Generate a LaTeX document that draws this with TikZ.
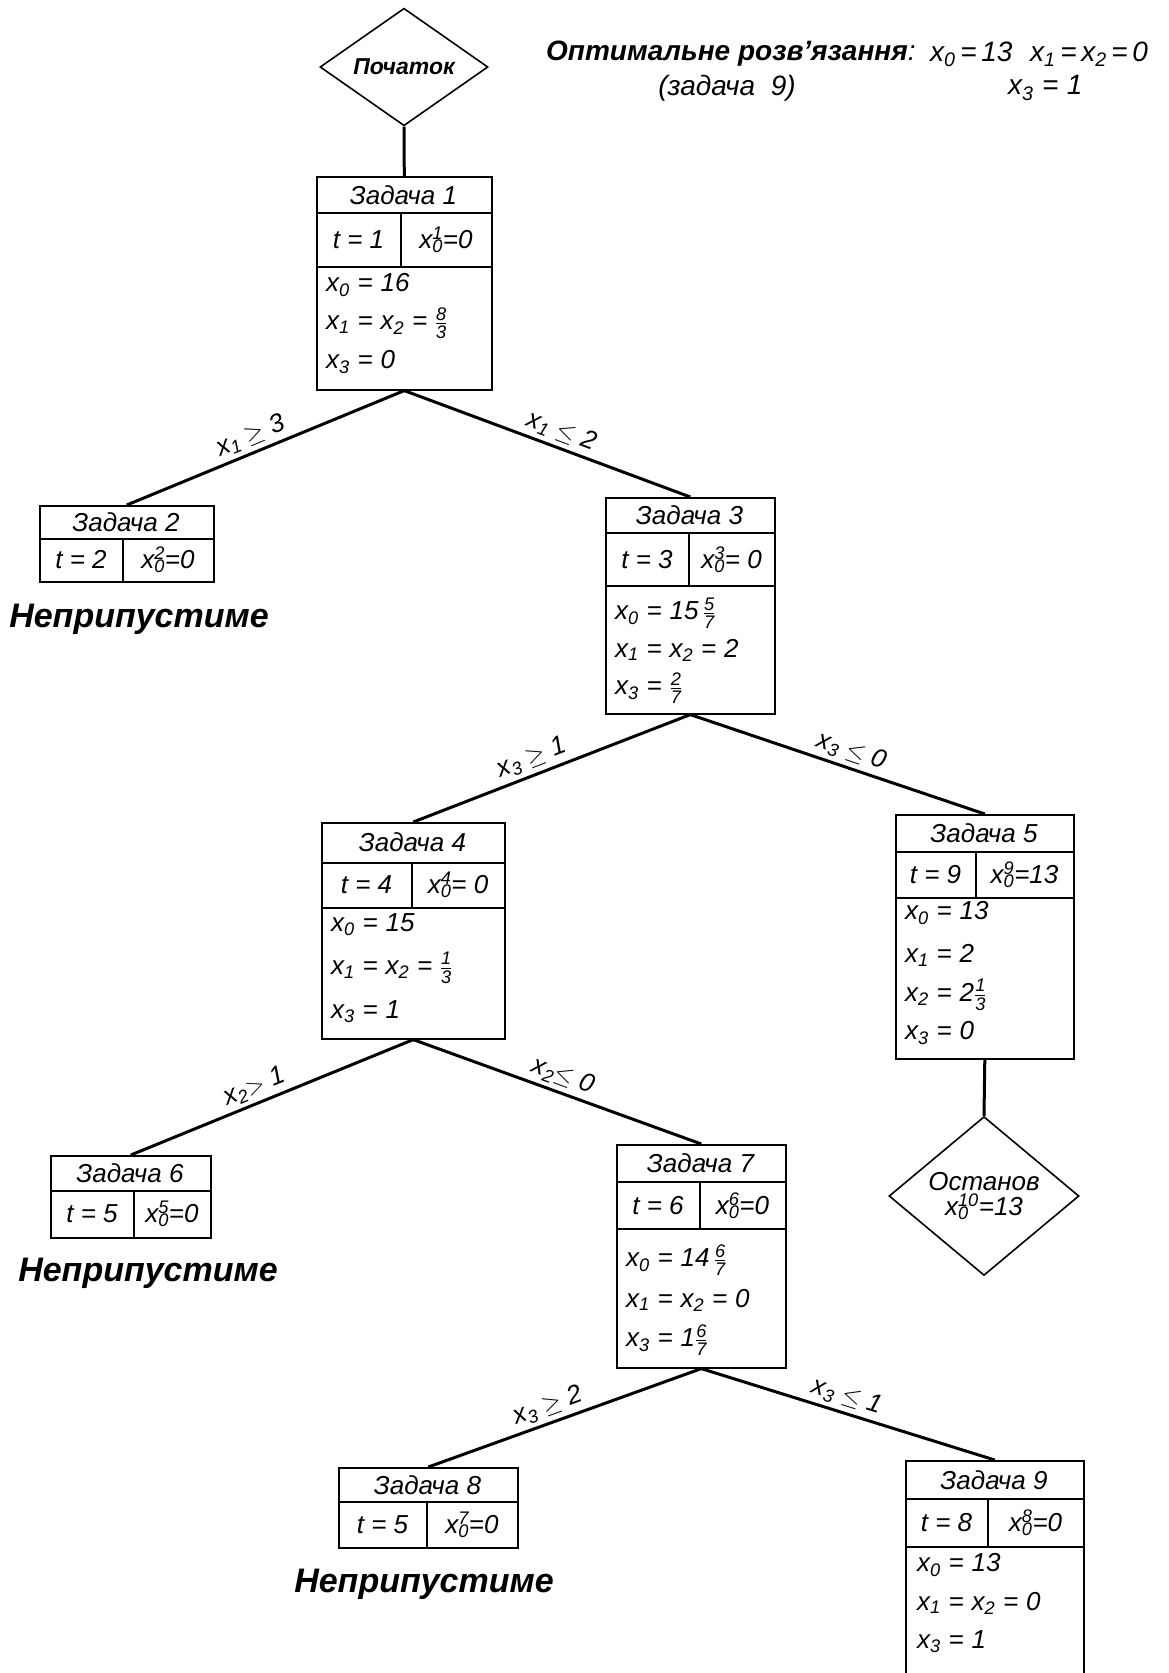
\documentclass[tikz,border=0pt]{standalone}
\usepackage{fontspec}
\usepackage{amsmath}
\setmainfont{Liberation Sans}
\usetikzlibrary{shapes.geometric}
\newcommand{\xv}[1]{\textit{x}\textsubscript{#1}}
\newcommand{\xvv}[2]{\textit{x}\makebox[0pt][l]{\textsubscript{#1}}\textsuperscript{#2}}
\newcommand{\fr}[2]{\ensuremath{\frac{\text{\itshape #1}}{\text{\itshape #2}}}}
\newcommand{\E}{\hspace{0.3em}=\hspace{0.3em}}
\begin{document}
\begin{tikzpicture}[x=1pt,y=-1pt,
  zframe/.style={draw, line width=1.6pt, inner sep=0pt, anchor=north west},
  cellrule/.style={line width=1.6pt},
  brline/.style={line width=3pt},
  bt/.style={font=\fontsize{26}{28}\selectfont\itshape, inner sep=0pt},
  ln/.style={bt, anchor=west},
  lbl/.style={font=\fontsize{26}{28}\selectfont\itshape, sloped, above, inner sep=4pt},
  bad/.style={font=\fontsize{34}{36}\selectfont\bfseries\itshape, inner sep=0pt},
  hdr/.style={font=\fontsize{28}{30}\selectfont\itshape, inner sep=0pt, anchor=west},
]
\fill[white] (0,0) rectangle (1168,1673);
\clip (0,0) rectangle (1168,1673);

% header
\node[hdr] (opt) at (546,54) {{\bfseries Оптимальне розв'язання}:};
\node[hdr] (sol1) at (930,54) {\xv{0}\,=\,13};
\node[hdr] (sol2) at (1030,54) {\xv{1}\,=\,\xv{2}\,=\,0};
\node[hdr, anchor=center] (task9) at (727,88) {(задача\ \ 9)};
\node[hdr] (sol3) at (1008,88) {\xv{3}\E 1};

% start
\node[diamond, draw, line width=1.6pt, minimum width=168pt, minimum height=116pt, inner sep=0pt,
      font=\fontsize{23}{25}\selectfont\bfseries\itshape] (start) at (404,67) {Початок};

% Box 1
\node[zframe, minimum width=175pt, minimum height=213pt] (b1) at (316,176) {};
\draw[cellrule] (316,213) -- (491,213) (401,213) -- (401,267) (316,267) -- (491,267);
\node[bt] (b1a) at (403.5,195) {Задача 1};
\node[bt] (b1b) at (358.5,240) {\textit{t} = 1};
\node[bt] (b1c) at (446,240) {\xvv{0}{1}=0};
\node[ln] (b1d) at (326,285) {\xv{0}\E 16};
\node[ln] (b1e) at (326,323) {\xv{1}\E\xv{2}\E\fr{8}{3}};
\node[ln] (b1f) at (326,362) {\xv{3}\E 0};

% Box 2
\node[zframe, minimum width=174pt, minimum height=76pt] (b2) at (39,505) {};
\draw[cellrule] (39,539) -- (213,539) (123,539) -- (123,581);
\node[bt] (b2a) at (126,522) {Задача 2};
\node[bt] (b2b) at (81,560) {\textit{t} = 2};
\node[bt] (b2c) at (168,560) {\xvv{0}{2}=0};
\node[bad] (bad1) at (139,619) {Неприпустиме};

% Box 3
\node[zframe, minimum width=169pt, minimum height=216pt] (b3) at (605,497) {};
\draw[cellrule] (605,533) -- (774,533) (689,533) -- (689,586) (605,586) -- (774,586);
\node[bt] (b3a) at (689.5,515) {Задача 3};
\node[bt] (b3b) at (647,560) {\textit{t} = 3};
\node[bt] (b3c) at (731.5,560) {\xvv{0}{3}= 0};
\node[ln] (b3d) at (615,613) {\xv{0}\E 15\,\fr{5}{7}};
\node[ln] (b3e) at (615,650) {\xv{1}\E\xv{2}\E 2};
\node[ln] (b3f) at (615,688) {\xv{3}\E\fr{2}{7}};

% Box 4
\node[zframe, minimum width=183pt, minimum height=216pt] (b4) at (321,822) {};
\draw[cellrule] (321,863) -- (504,863) (412,863) -- (412,908) (321,908) -- (504,908);
\node[bt] (b4a) at (412.5,842) {Задача 4};
\node[bt] (b4b) at (366.5,885) {\textit{t} = 4};
\node[bt] (b4c) at (458,885) {\xvv{0}{4}= 0};
\node[ln] (b4d) at (331,925) {\xv{0}\E 15};
\node[ln] (b4e) at (331,968) {\xv{1}\E\xv{2}\E\fr{1}{3}};
\node[ln] (b4f) at (331,1012) {\xv{3}\E 1};

% Box 5
\node[zframe, minimum width=178pt, minimum height=244pt] (b5) at (895,814) {};
\draw[cellrule] (895,852) -- (1073,852) (976,852) -- (976,898) (895,898) -- (1073,898);
\node[bt] (b5a) at (984,833) {Задача 5};
\node[bt] (b5b) at (935.5,875) {\textit{t} = 9};
\node[bt] (b5c) at (1024.5,875) {\xvv{0}{9}=13};
\node[ln] (b5d) at (905,913) {\xv{0}\E 13};
\node[ln] (b5e) at (905,955) {\xv{1}\E 2};
\node[ln] (b5f) at (905,995) {\xv{2}\E 2\fr{1}{3}};
\node[ln] (b5g) at (905,1033) {\xv{3}\E 0};

% stop
\node[diamond, draw, line width=1.6pt, minimum width=190pt, minimum height=134pt, inner sep=0pt,
      align=center, font=\fontsize{26}{29}\selectfont\itshape] (stop) at (984,1196) {Останов\\[-4pt]\xvv{0}{10}=13};

% Box 6
\node[zframe, minimum width=160pt, minimum height=82pt] (b6) at (50,1155) {};
\draw[cellrule] (50,1191) -- (210,1191) (134,1191) -- (134,1237);
\node[bt] (b6a) at (130,1173) {Задача 6};
\node[bt] (b6b) at (92,1214) {\textit{t} = 5};
\node[bt] (b6c) at (172,1214) {\xvv{0}{5}=0};
\node[bad] (bad2) at (148,1273) {Неприпустиме};

% Box 7
\node[zframe, minimum width=169pt, minimum height=223pt] (b7) at (616,1144) {};
\draw[cellrule] (616,1182) -- (785,1182) (700,1182) -- (700,1229) (616,1229) -- (785,1229);
\node[bt] (b7a) at (700.5,1163) {Задача 7};
\node[bt] (b7b) at (658,1206) {\textit{t} = 6};
\node[bt] (b7c) at (742.5,1206) {\xvv{0}{6}=0};
\node[ln] (b7d) at (626,1260) {\xv{0}\E 14\,\fr{6}{7}};
\node[ln] (b7e) at (626,1300) {\xv{1}\E\xv{2}\E 0};
\node[ln] (b7f) at (626,1340) {\xv{3}\E 1\fr{6}{7}};

% Box 8
\node[zframe, minimum width=179pt, minimum height=80pt] (b8) at (338,1467) {};
\draw[cellrule] (338,1502) -- (517,1502) (427,1502) -- (427,1547);
\node[bt] (b8a) at (427.5,1485) {Задача 8};
\node[bt] (b8b) at (382.5,1525) {\textit{t} = 5};
\node[bt] (b8c) at (472,1525) {\xvv{0}{7}=0};
\node[bad] (bad3) at (424,1584) {Неприпустиме};

% Box 9
\node[zframe, minimum width=178pt, minimum height=240pt] (b9) at (905,1460) {};
\draw[cellrule] (905,1499) -- (1083,1499) (988,1499) -- (988,1547) (905,1547) -- (1083,1547);
\node[bt] (b9a) at (994,1480) {Задача 9};
\node[bt] (b9b) at (946.5,1523) {\textit{t} = 8};
\node[bt] (b9c) at (1035.5,1523) {\xvv{0}{8}=0};
\node[ln] (b9d) at (917,1565) {\xv{0}\E 13};
\node[ln] (b9e) at (917,1603) {\xv{1}\E\xv{2}\E 0};
\node[ln] (b9f) at (917,1642) {\xv{3}\E 1};

% connectors
\draw[brline] (start.south) -- (b1.north);
\draw[brline] (b5.south) -- (stop.north);
\draw[brline] (b2.north) -- node[lbl,pos=.47] (l12) {\xv{1} \ensuremath{\geq} 3} (b1.south);
\draw[brline] (b1.south) -- node[lbl,pos=.53] (l13) {\xv{1} \ensuremath{\leq} 2} (b3.north);
\draw[brline] (b4.north) -- node[lbl,pos=.45] (l34) {\xv{3} \ensuremath{\geq} 1} (b3.south);
\draw[brline] (b3.south) -- node[lbl,pos=.53] (l35) {\xv{3} \ensuremath{\leq} 0} (b5.north);
\draw[brline] (b6.north) -- node[lbl,pos=.46] (l46) {\xv{2}\ensuremath{>} 1} (b4.south);
\draw[brline] (b4.south) -- node[lbl,pos=.5] (l47) {\xv{2}\ensuremath{\leq} 0} (b7.north);
\draw[brline] (b8.north) -- node[lbl,pos=.46] (l78) {\xv{3} \ensuremath{\geq} 2} (b7.south);
\draw[brline] (b7.south) -- node[lbl,pos=.48] (l79) {\xv{3} \ensuremath{\leq} 1} (b9.north);
\end{tikzpicture}
\end{document}
